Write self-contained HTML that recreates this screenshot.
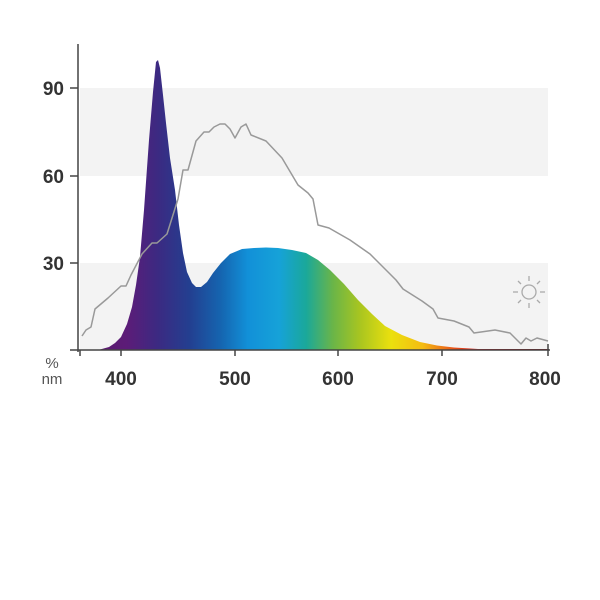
<!DOCTYPE html>
<html><head><style>html,body{margin:0;background:#fff}svg{display:block}</style></head><body>
<svg width="600" height="600" viewBox="0 0 600 600" xmlns="http://www.w3.org/2000/svg">
<defs>
<linearGradient id="sp" gradientUnits="userSpaceOnUse" x1="100" y1="0" x2="548" y2="0">
<stop offset="0" stop-color="#5a1a6e"/>
<stop offset="0.06" stop-color="#5c1c78"/>
<stop offset="0.13" stop-color="#3b2a82"/>
<stop offset="0.2" stop-color="#233f90"/>
<stop offset="0.27" stop-color="#1565b0"/>
<stop offset="0.33" stop-color="#1290d8"/>
<stop offset="0.4" stop-color="#16a2d8"/>
<stop offset="0.46" stop-color="#1aa89a"/>
<stop offset="0.52" stop-color="#6ab548"/>
<stop offset="0.58" stop-color="#a8c520"/>
<stop offset="0.65" stop-color="#ebe00e"/>
<stop offset="0.72" stop-color="#f4bc12"/>
<stop offset="0.79" stop-color="#e8541a"/>
<stop offset="0.85" stop-color="#cc121c"/>
<stop offset="1" stop-color="#8a0a12"/>
</linearGradient>
</defs>
<rect x="80" y="88" width="468" height="88" fill="#f3f3f3"/>
<rect x="80" y="263" width="468" height="87" fill="#f3f3f3"/>
<path d="M80,350 L100,349.5 L109,347 L115,343 L121,337 L127,324 L132,307 L136,285 L140,257 L144,210 L149,140 L153,92 L156,62 L158,60 L160,68 L163,95 L166,123 L170,158 L175,190 L179,225 L183,253 L187,272 L192,283 L196,287 L201,287 L207,282 L213,273 L221,263 L230,254 L242,249 L254,248 L266,247.5 L278,248 L292,250 L306,253 L318,260 L330,270 L344,284 L358,300 L372,314 L385,326 L402,335 L420,342 L437,345.5 L454,347.5 L478,349 L549,349 L549,350 Z" fill="url(#sp)"/>
<polyline fill="none" stroke="#999" stroke-width="1.5" stroke-linejoin="round" points="
82,336 86,330 91,327 95,309 108,298 121,286 126,286 131,275 142,254 152,243 157,243 167,234 178,199 183,170 188,170 196,141 204,132 209,132 214,127 220,124 225,124 230,129 235,138 241,127 246,124 251,135 266,141 282,158 298,185 308,193 313,199 318,225 329,228 350,240 370,254 391,275 396,280 403,289 422,301 433,309 438,318 454,321 469,327 474,333 495,330 510,333 521,344 526,338 531,341 537,338 548,341"/>
<line x1="78" y1="44" x2="78" y2="352" stroke="#444" stroke-width="1.5"/>
<line x1="70" y1="350" x2="550" y2="350" stroke="#444" stroke-width="1.5"/>
<g stroke="#444" stroke-width="1.5">
<line x1="70" y1="88" x2="78" y2="88"/><line x1="70" y1="176" x2="78" y2="176"/><line x1="70" y1="263" x2="78" y2="263"/>
<line x1="121" y1="350" x2="121" y2="356"/><line x1="235" y1="350" x2="235" y2="356"/><line x1="338" y1="350" x2="338" y2="356"/><line x1="442" y1="350" x2="442" y2="356"/><line x1="548" y1="344" x2="548" y2="356"/><line x1="80" y1="350" x2="80" y2="356"/>
</g>
<g font-family="Liberation Sans Narrow, Liberation Sans, sans-serif" font-weight="bold" font-size="19" fill="#333">
<text x="64" y="95" text-anchor="end">90</text>
<text x="64" y="183" text-anchor="end">60</text>
<text x="64" y="270" text-anchor="end">30</text>
<text x="121" y="385" text-anchor="middle">400</text>
<text x="235" y="385" text-anchor="middle">500</text>
<text x="338" y="385" text-anchor="middle">600</text>
<text x="442" y="385" text-anchor="middle">700</text>
<text x="545" y="385" text-anchor="middle">800</text>
</g>
<g font-family="Liberation Sans, sans-serif" font-size="15" fill="#555">
<text x="52" y="368" text-anchor="middle">%</text>
<text x="52" y="384" text-anchor="middle">nm</text>
</g>
<g stroke="#aaa" stroke-width="1.3" fill="none">
<circle cx="529" cy="292" r="7"/>
<line x1="513" y1="292" x2="518" y2="292"/><line x1="540" y1="292" x2="545" y2="292"/>
<line x1="529" y1="276" x2="529" y2="281"/><line x1="529" y1="303" x2="529" y2="308"/>
<line x1="518" y1="281" x2="521" y2="284"/><line x1="537" y1="300" x2="540" y2="303"/>
<line x1="540" y1="281" x2="537" y2="284"/><line x1="518" y1="303" x2="521" y2="300"/>
</g>
</svg>
</body></html>
